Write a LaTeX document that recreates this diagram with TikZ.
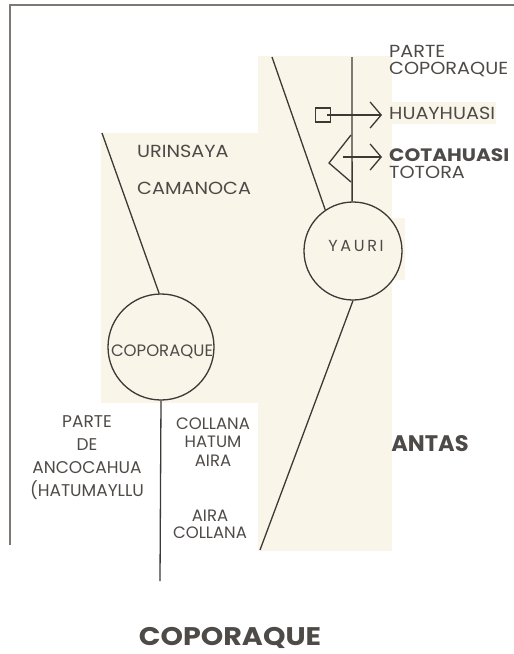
\documentclass[tikz,border=0pt]{standalone}
\usepackage{fontspec}
\setmainfont{Poppins}
\newfontfamily\widefont[FakeStretch=1.1]{Poppins}
\newfontfamily\widebold[FakeStretch=1.12]{Poppins Bold}
\usetikzlibrary{arrows.meta}
\definecolor{beige}{RGB}{249,245,233}
\definecolor{ink}{RGB}{60,57,55}
\definecolor{txt}{RGB}{78,74,71}
\definecolor{frame}{RGB}{125,120,115}
\tikzset{
  lbl/.style={text=txt, inner sep=0pt, font=\fontsize{17}{18}\selectfont},
  wlbl/.style={text=txt, inner sep=0pt, font=\widefont\fontsize{17.5}{18}\selectfont},
  ln/.style={draw=ink, line width=1.3pt},
  arr/.style={ln, -{Straight Barb[length=11pt,width=26pt,line width=1.3pt]}},
  ring/.style={circle, draw=ink, line width=1.3pt, inner sep=0pt},
}
\begin{document}
\begin{tikzpicture}[x=1pt,y=-1pt]
\useasboundingbox (0,0) rectangle (514,654);
% backgrounds
\fill[beige] (258,56) rectangle (392,551);
\fill[beige] (392,218) rectangle (405,280);
\fill[beige] (101,133) rectangle (258,403);
\fill[beige] (388,102) rectangle (496,124);
% frame
\draw[frame, line width=2pt] (10,545) -- (10,5) -- (514,5);
% circles
\node[ring, minimum size=106pt] (cop) at (161,347) {};
\node[lbl, font=\fontsize{16.5}{17}\selectfont] (coptxt) at (162,352) {COPORAQUE};
\node[ring, minimum size=98pt] (yau) at (353,251) {};
\node[lbl, font=\fontsize{16}{17}\selectfont] (yautxt) at (356,246) {Y\,A\,U\,R\,I};
% connectors
\coordinate (copup) at (102,133);
\coordinate (copdown) at (160,581);
\coordinate (yauup) at (272,57);
\coordinate (yautop) at (352,57);
\coordinate (yaudown) at (260,550);
\draw[ln] (copup) -- (cop.92);
\draw[ln] (cop.south) -- (copdown);
\draw[ln] (yauup) -- (yau.124);
\draw[ln] (yautop) -- (yau.91);
\draw[ln] (yau.south) -- (yaudown);
% square marker
\node[draw=ink, line width=1.3pt, minimum width=15pt, minimum height=14pt, inner sep=0pt] (sq) at (323,115) {};
\coordinate (sqstart) at (327,115);
\coordinate (sqend) at (382,115);
\draw[arr] (sqstart) -- (sqend);
% triangle marker
\coordinate (tritop) at (351,135);
\coordinate (trileft) at (329,163);
\coordinate (tribot) at (351,182);
\draw[ln, line join=miter] (tritop) -- (trileft) -- (tribot);
\coordinate (tristart) at (343,157);
\coordinate (triend) at (382,157);
\draw[arr] (tristart) -- (triend);
% labels
\node[wlbl, anchor=west] (parte1) at (389,51) {PARTE};
\node[wlbl, anchor=west] (parte2) at (389,69) {COPORAQUE};
\node[wlbl, anchor=west] (huay) at (389,113) {HUAYHUASI};
\node[text=txt, inner sep=0pt, font=\widebold\fontsize{18}{19}\selectfont, anchor=west] (cota) at (389,155) {COTAHUASI};
\node[wlbl, anchor=west] (toto) at (389,172.5) {TOTORA};
\node[wlbl, anchor=west] (urin) at (137,151) {URINSAYA};
\node[wlbl, anchor=west] (cama) at (137,188) {CAMANOCA};
\node[lbl, align=center, font=\fontsize{17}{23}\selectfont] (ancoc) at (87,458) {PARTE\\DE\\ANCOCAHUA\\(HATUMAYLLU};
\node[lbl, align=center, font=\fontsize{16.5}{18.5}\selectfont] (coll) at (213,442) {COLLANA\\HATUM\\AIRA};
\node[lbl, align=center, font=\fontsize{16.5}{17}\selectfont] (aira) at (210,524) {AIRA\\COLLANA};
\node[text=txt, inner sep=0pt, font=\fontsize{22.5}{24}\bfseries\selectfont] (antas) at (430,444) {ANTAS};
\node[text=txt, inner sep=0pt, font=\widebold\fontsize{25.5}{27}\selectfont] (title) at (230,638) {COPORAQUE};
\end{tikzpicture}
\end{document}
